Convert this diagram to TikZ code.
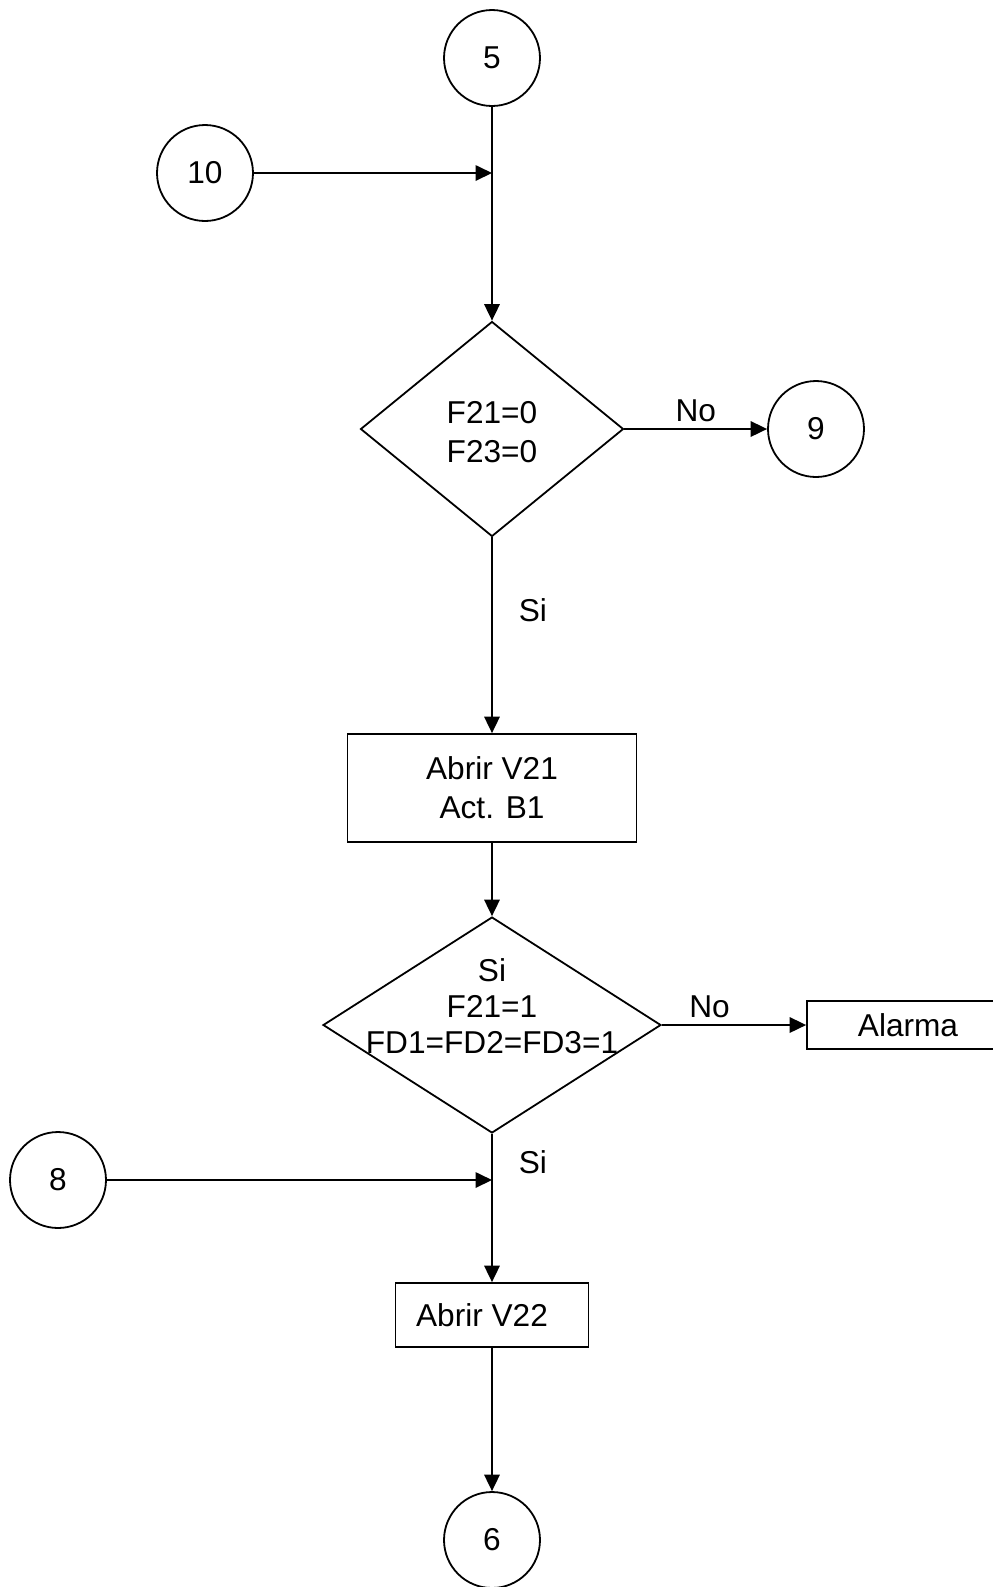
\documentclass[tikz,border=0pt]{standalone}
\usepackage{fontspec}
\setmainfont{Liberation Sans}
\usetikzlibrary{arrows.meta,shapes.geometric,positioning}

\begin{document}
\begin{tikzpicture}[x=0.02cm,y=-0.02cm,>={Triangle[length=0.33cm,width=0.31cm]},
  font=\fontsize{18}{22}\selectfont,line width=0.036cm,
  conn/.style={circle,draw,minimum size=1.92cm,inner sep=0pt},
  dec/.style={diamond,draw,inner sep=0pt},
  proc/.style={rectangle,draw,align=center,inner sep=0pt},
  flow/.style={->}]
\useasboundingbox (0,0) rectangle (992,1587);
% connectors and decisions
\node[conn] (c5) at (492,58) {5};
\node[conn] (c10) at (205,173) {10};
\node[dec,minimum width=5.26cm,minimum height=4.3cm] (d1) at (492,429) {};
\node[align=center] (d1t) at (492,432) {F21=0\\F23=0};
\node[conn] (c9) at (816,429) {9};
\node[proc,minimum width=5.78cm,minimum height=2.16cm] (v21) at (492,788) {Abrir V21\\Act. B1};
\node[dec,minimum width=6.76cm,minimum height=4.32cm] (d2) at (492,1025) {};
\node[align=center,font=\fontsize{18}{20.5}\selectfont] (d2t) at (492,1006) {Si\\F21=1\\FD1=FD2=FD3=1};
\node[proc,minimum width=4.04cm,minimum height=0.96cm] (alarm) at (908,1025) {Alarma};
\node[conn] (c8) at (58,1180) {8};
\node[proc,minimum width=3.86cm,minimum height=1.28cm] (v22) at (492,1315) {Abrir V22\hspace*{0.4cm}};
\node[conn] (c6) at (492,1540) {6};
% flow lines
\coordinate (j1) at (c5 |- c10);
\coordinate (j2) at (d2 |- c8);
\draw[flow] (c5) -- (d1);
\draw[flow] (c10) -- (j1);
\draw[flow] (d1) -- node[above] (no1) {No} (c9);
\draw[flow] (d1) -- node[pos=.37,right=0.4cm] (si1) {Si} (v21);
\draw[flow] (v21) -- (d2);
\draw[flow] (d2) -- node[pos=.33,above] (no2) {No} (alarm);
\draw[flow] (d2) -- node[pos=.19,right=0.4cm] (si2) {Si} (v22);
\draw[flow] (c8) -- (j2);
\draw[flow] (v22) -- (c6);
\end{tikzpicture}
\end{document}
